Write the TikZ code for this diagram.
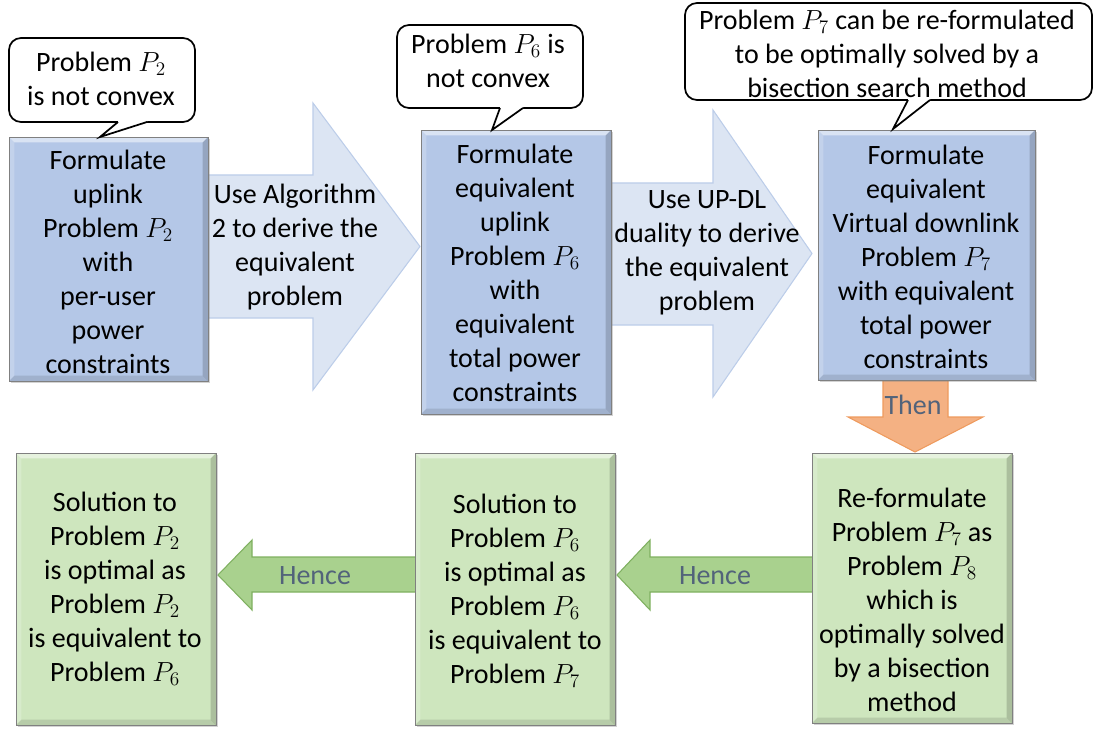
\documentclass[tikz,border=0pt]{standalone}
\usepackage{fontspec}
\setmainfont{Carlito}
\usetikzlibrary{shadows,fit}

\definecolor{boxblue}{HTML}{B4C7E7}
\definecolor{boxgreen}{HTML}{CEE6BE}
\definecolor{arrowblue}{HTML}{DCE5F3}
\definecolor{arrowblueline}{HTML}{BCCDE9}
\definecolor{arrowgreen}{HTML}{A9D18E}
\definecolor{arrowgreenline}{HTML}{7FB060}
\definecolor{arroworange}{HTML}{F4B183}
\definecolor{arroworangeline}{HTML}{EE9A5D}
\definecolor{labelgray}{HTML}{52637A}

\tikzset{
  bevel/.style={path picture={
    \fill[white,opacity=0.5]
      (path picture bounding box.north west) -- (path picture bounding box.north east)
      -- ([shift={(-4pt,-4pt)}]path picture bounding box.north east)
      -- ([shift={(4pt,-4pt)}]path picture bounding box.north west) -- cycle;
    \fill[white,opacity=0.2]
      (path picture bounding box.north west) -- (path picture bounding box.south west)
      -- ([shift={(4pt,4pt)}]path picture bounding box.south west)
      -- ([shift={(4pt,-4pt)}]path picture bounding box.north west) -- cycle;
    \fill[black,opacity=0.17]
      (path picture bounding box.north east) -- (path picture bounding box.south east)
      -- ([shift={(-4pt,4pt)}]path picture bounding box.south east)
      -- ([shift={(-4pt,-4pt)}]path picture bounding box.north east) -- cycle;
    \fill[black,opacity=0.11]
      (path picture bounding box.south west) -- (path picture bounding box.south east)
      -- ([shift={(-4pt,4pt)}]path picture bounding box.south east)
      -- ([shift={(4pt,4pt)}]path picture bounding box.south west) -- cycle;
  }},
  panel/.style={draw=black!50, line width=0.6pt, inner sep=0pt, bevel,
    drop shadow={shadow xshift=1.5pt, shadow yshift=-1.5pt, opacity=0.35}},
  bluebox/.style={panel, fill=boxblue},
  greenbox/.style={panel, fill=boxgreen},
  callbox/.style={draw=black, fill=white, line width=1.3pt, rounded corners=9pt, inner sep=0pt},
  tail/.style={draw=black, line width=1.3pt, line join=miter},
  txt/.style={align=center, inner sep=0pt, font=\fontsize{21}{25.5}\selectfont},
  arrowtxt/.style={txt, text=labelgray},
  bigarrow/.style={fill=arrowblue, draw=arrowblueline, line width=0.8pt},
  hencearrow/.style={fill=arrowgreen, draw=arrowgreenline, line width=0.8pt},
  thenarrow/.style={fill=arroworange, draw=arroworangeline, line width=0.8pt},
}

\begin{document}
\begin{tikzpicture}[x=0.75pt, y=-0.75pt]
\useasboundingbox (0,0) rectangle (1099,731);

% block arrows between the upper boxes
\path[bigarrow] (200,175) -- (313,175) -- (313,103) -- (420,246.5) -- (313,390)
  -- (313,318) -- (200,318) -- cycle;
\path[bigarrow] (603,183) -- (713,183) -- (713,110) -- (812,253.5) -- (713,397)
  -- (713,325) -- (603,325) -- cycle;
% downward arrow
\path[thenarrow] (883,376) -- (948,376) -- (948,417) -- (983,417) -- (915,452)
  -- (848,417) -- (883,417) -- cycle;
% leftward arrows in the lower row
\path[hencearrow] (418,557) -- (252,557) -- (252,540) -- (218,575) -- (252,610)
  -- (252,592) -- (418,592) -- cycle;
\path[hencearrow] (815,557) -- (650,557) -- (650,540) -- (617,575) -- (650,610)
  -- (650,592) -- (815,592) -- cycle;

\node[arrowtxt, text=black] (a1) at (295,247) {Use Algorithm\\2 to derive the\\equivalent\\problem};
\node[arrowtxt, text=black] (a2) at (707,253) {Use UP-DL\\duality to derive\\the equivalent\\problem};
\node[arrowtxt] (then) at (913,405) {Then};
\node[arrowtxt] (hence1) at (315,576) {Hence};
\node[arrowtxt] (hence2) at (715,576) {Hence};

% upper row: formulation steps
\node[bluebox, fit={(9,137) (208,381)}] (b1) {};
\node[bluebox, fit={(421,130) (611,414)}] (b2) {};
\node[bluebox, fit={(818,130) (1035,380)}] (b3) {};
\node[txt] (b1t) at (108,262) {Formulate\\uplink\\Problem $P_2$\\with\\per-user\\power\\constraints};
\node[txt] (b2t) at (515,273) {Formulate\\equivalent\\uplink\\Problem $P_6$\\with\\equivalent\\total power\\constraints};
\node[txt] (b3t) at (926,257) {Formulate\\equivalent\\Virtual downlink\\Problem $P_7$\\with equivalent\\total power\\constraints};

% lower row: conclusions
\node[greenbox, fit={(16,453) (216,725)}] (g1) {};
\node[greenbox, fit={(415,453) (615,725)}] (g2) {};
\node[greenbox, fit={(812,453) (1012,723)}] (g3) {};
\node[txt] (g1t) at (115,589) {Solution to\\Problem $P_2$\\is optimal as\\Problem $P_2$\\is equivalent to\\Problem $P_6$};
\node[txt] (g2t) at (515,591) {Solution to\\Problem $P_6$\\is optimal as\\Problem $P_6$\\is equivalent to\\Problem $P_7$};
\node[txt] (g3t) at (912,600) {Re-formulate\\Problem $P_7$ as\\Problem $P_8$\\which is\\optimally solved\\by a bisection\\method};

% speech bubbles
\node[callbox, fit={(9,38) (195,122)}] (c1) {};
\coordinate (c1a) at (118,122); \coordinate (c1tip) at (100,137); \coordinate (c1b) at (147,122);
\fill[white] (118,118.5) -- (c1a) -- (c1tip) -- (c1b) -- (147,118.5) -- cycle;
\draw[tail] (c1a) -- (c1tip) -- (c1b);
\node[txt] (c1t) at (101,79) {Problem $P_2$\\is not convex};

\node[callbox, fit={(397,25) (583,108)}] (c2) {};
\coordinate (c2a) at (500,108); \coordinate (c2tip) at (492,130); \coordinate (c2b) at (523,108);
\fill[white] (500,104.5) -- (c2a) -- (c2tip) -- (c2b) -- (523,104.5) -- cycle;
\draw[tail] (c2a) -- (c2tip) -- (c2b);
\node[txt] (c2t) at (488,61) {Problem $P_6$ is\\not convex};

\node[callbox, fit={(685,3) (1092,100)}] (c3) {};
\coordinate (c3a) at (908,100); \coordinate (c3tip) at (893,129); \coordinate (c3b) at (930,100);
\fill[white] (908,96.5) -- (c3a) -- (c3tip) -- (c3b) -- (930,96.5) -- cycle;
\draw[tail] (c3a) -- (c3tip) -- (c3b);
\node[txt] (c3t) at (887,54) {Problem $P_7$ can be re-formulated\\to be optimally solved by a\\bisection search method};
\end{tikzpicture}
\end{document}
